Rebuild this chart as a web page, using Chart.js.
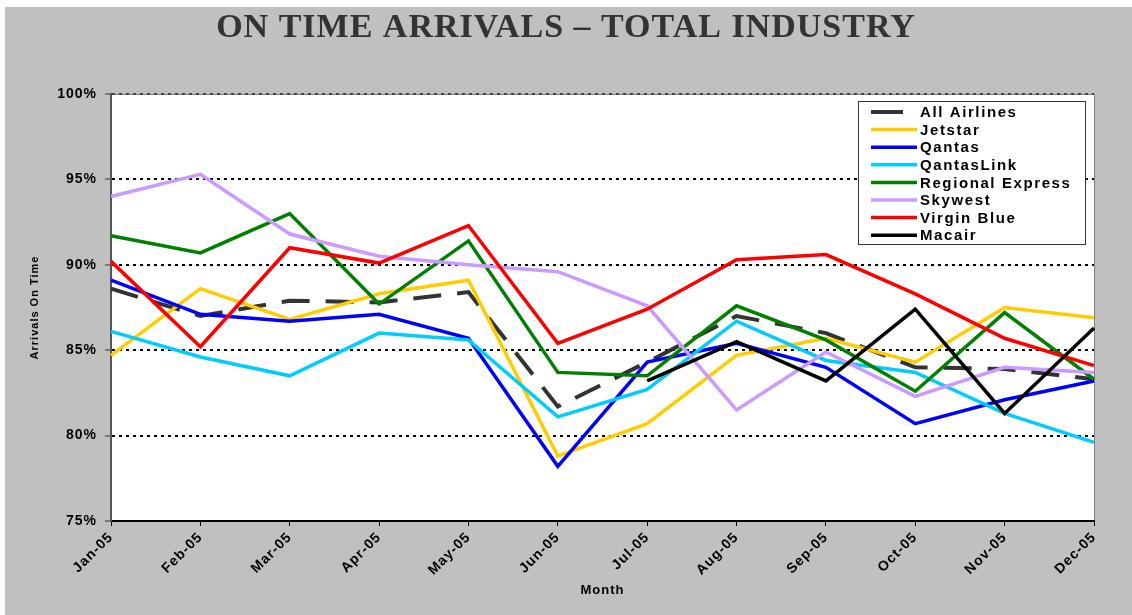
<!DOCTYPE html>
<html lang="en">
<head>
    <meta charset="UTF-8">
    <title>On Time Arrivals - Total Industry</title>
    <script src="https://cdn.jsdelivr.net/npm/chart.js"></script>
    <style>
        html, body { margin: 0; padding: 0; background: #ffffff; }
        canvas { display: block; }
    </style>
</head>
<body>
    <canvas id="mainChart" width="1132" height="615"></canvas>

    <script>
        const months = ['Jan-05', 'Feb-05', 'Mar-05', 'Apr-05', 'May-05', 'Jun-05',
                        'Jul-05', 'Aug-05', 'Sep-05', 'Oct-05', 'Nov-05', 'Dec-05'];

        const allAirlines     = [88.6, 87.0, 87.9, 87.8, 88.4, 81.7, 84.3, 87.0, 86.0, 84.0, 83.9, 83.3];
        const jetstar         = [84.7, 88.6, 86.8, 88.3, 89.1, 78.8, 80.7, 84.7, 85.7, 84.3, 87.5, 86.9];
        const qantas          = [89.1, 87.1, 86.7, 87.1, 85.7, 78.2, 84.3, 85.4, 84.0, 80.7, 82.1, 83.2];
        const qantasLink      = [86.1, 84.6, 83.5, 86.0, 85.6, 81.1, 82.7, 86.7, 84.4, 83.7, 81.3, 79.6];
        const regionalExpress = [91.7, 90.7, 93.0, 87.7, 91.4, 83.7, 83.5, 87.6, 85.6, 82.6, 87.2, 83.3];
        const skywest         = [94.0, 95.3, 91.8, 90.5, 90.0, 89.6, 87.6, 81.5, 84.9, 82.3, 84.0, 83.7];
        const virginBlue      = [90.2, 85.2, 91.0, 90.1, 92.3, 85.4, 87.4, 90.3, 90.6, 88.3, 85.7, 84.1];
        const macair          = [null, null, null, null, null, null, 83.2, 85.5, 83.2, 87.4, 81.3, 86.3];

        const seriesNames = ['All Airlines', 'Jetstar', 'Qantas', 'QantasLink',
                             'Regional Express', 'Skywest', 'Virgin Blue', 'Macair'];
        const seriesData = [allAirlines, jetstar, qantas, qantasLink,
                            regionalExpress, skywest, virginBlue, macair];
        const seriesColors = ['#333333', '#FFCC00', '#0000FF', '#00CCFF',
                              '#008000', '#CC99FF', '#FF0000', '#000000'];

        const yTicks = [75, 80, 85, 90, 95, 100];

        // grey sheet behind the chart, white plot area with a thin grey frame
        const background = {
            id: 'background',
            beforeLayout(chart) {
                chart.ctx.letterSpacing = '1px';
            },
            beforeDraw(chart) {
                const ctx = chart.ctx;
                const a = chart.chartArea;
                ctx.save();
                ctx.fillStyle = '#C0C0C0';
                ctx.fillRect(5, 7, chart.width - 5, chart.height - 7);
                ctx.fillStyle = '#FFFFFF';
                ctx.fillRect(a.left, a.top, a.right - a.left, a.bottom - a.top);
                ctx.strokeStyle = '#808080';
                ctx.lineWidth = 1;
                ctx.strokeRect(a.left + 0.5, a.top + 0.5, a.right - a.left, a.bottom - a.top);
                ctx.restore();
                ctx.letterSpacing = '1px';
            }
        };

        // boxed legend inside the plot, top right
        const boxLegend = {
            id: 'boxLegend',
            afterDraw(chart) {
                const ctx = chart.ctx;
                const x = 858, y = 101, w = 227, h = 143;
                const rowH = 17.6;
                ctx.save();
                ctx.fillStyle = '#FFFFFF';
                ctx.fillRect(x, y, w, h);
                ctx.strokeStyle = '#333333';
                ctx.lineWidth = 1;
                ctx.strokeRect(x + 0.5, y + 0.5, w, h);
                ctx.font = 'bold 15px "Liberation Sans"';
                ctx.letterSpacing = '1.6px';
                ctx.textBaseline = 'middle';
                ctx.fillStyle = '#000000';
                chart.data.datasets.forEach((ds, i) => {
                    const cy = y + 11 + i * rowH;
                    ctx.beginPath();
                    ctx.strokeStyle = ds.borderColor;
                    ctx.lineWidth = ds.borderWidth;
                    ctx.setLineDash(ds.borderDash.length ? [32, 20] : []);
                    ctx.moveTo(871, cy);
                    ctx.lineTo(917, cy);
                    ctx.stroke();
                    ctx.setLineDash([]);
                    ctx.fillText(ds.label, 920, cy + 1);
                });
                ctx.restore();
            }
        };

        const datasets = seriesNames.map((name, i) => ({
            label: name,
            data: seriesData[i],
            borderColor: seriesColors[i],
            backgroundColor: seriesColors[i],
            borderWidth: i === 0 ? 4 : 3.5,
            borderDash: i === 0 ? [28, 16] : [],
            pointRadius: 0,
            pointHoverRadius: 0,
            tension: 0,
            spanGaps: false,
            order: seriesNames.length - i
        }));

        Chart.defaults.font.family = '"Liberation Sans", Arial, sans-serif';
        Chart.defaults.color = '#000000';

        const ctx = document.getElementById('mainChart').getContext('2d');
        new Chart(ctx, {
            type: 'line',
            data: {
                labels: months,
                datasets: datasets
            },
            options: {
                responsive: false,
                animation: false,
                devicePixelRatio: 1,
                layout: {
                    padding: 0
                },
                plugins: {
                    legend: { display: false },
                    tooltip: { enabled: false },
                    title: {
                        display: true,
                        text: 'ON TIME ARRIVALS – TOTAL INDUSTRY',
                        color: '#333333',
                        font: { family: '"Liberation Serif", serif', size: 34, weight: 'bold' },
                        padding: { top: 8, bottom: 45.2 }
                    }
                },
                scales: {
                    x: {
                        offset: false,
                        afterFit: scale => { scale.height = 94; },
                        grid: {
                            drawOnChartArea: false,
                            tickLength: 5,
                            tickColor: '#000000',
                            tickWidth: 1
                        },
                        border: { color: '#000000', width: 2 },
                        ticks: {
                            minRotation: 45,
                            maxRotation: 45,
                            autoSkip: false,
                            padding: 3,
                            font: { size: 14, weight: 'bold' }
                        },
                        title: {
                            display: true,
                            text: 'Month',
                            font: { size: 13, weight: 'bold' },
                            padding: { top: 0, bottom: 17 }
                        }
                    },
                    y: {
                        min: 75,
                        max: 100,
                        afterFit: scale => { scale.width = 111; },
                        afterBuildTicks: scale => {
                            scale.ticks = yTicks.map(v => ({ value: v }));
                        },
                        grid: {
                            color: c => {
                                if (!c.tick) return '#000000';
                                if (c.tick.value === 75) return 'rgba(0,0,0,0)';
                                if (c.tick.value === 100) return '#444444';
                                return '#000000';
                            },
                            lineWidth: 2,
                            tickLength: 6,
                            tickColor: '#333333',
                            tickWidth: 1
                        },
                        border: { color: '#555555', width: 2, dash: [3, 4] },
                        ticks: {
                            padding: 8,
                            font: { size: 14, weight: 'bold' },
                            callback: v => v + '%'
                        },
                        title: {
                            display: true,
                            text: 'Arrivals On Time',
                            font: { size: 11, weight: 'bold' },
                            padding: { top: 28, bottom: 0 }
                        }
                    },
                    // empty right-hand strip so the plot stops short of the edge
                    yRight: {
                        position: 'right',
                        min: 75,
                        max: 100,
                        afterFit: scale => { scale.width = 38; },
                        grid: { display: false },
                        border: { display: false },
                        ticks: { display: false }
                    }
                }
            },
            plugins: [background, boxLegend]
        });
    </script>
</body>
</html>
